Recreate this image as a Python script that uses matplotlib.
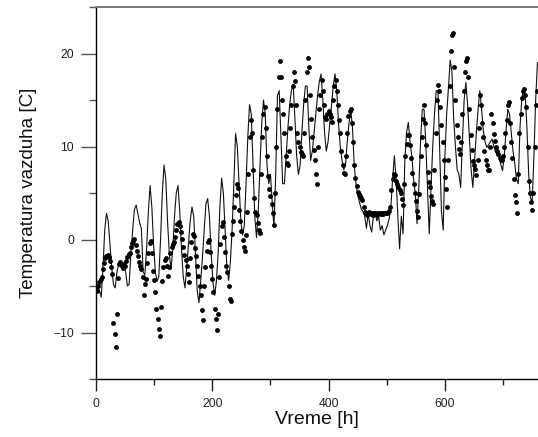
import numpy as np
import matplotlib
matplotlib.use("Agg")
import matplotlib.pyplot as plt
from matplotlib.ticker import MultipleLocator

plt.rcParams['font.family'] = ['Liberation Sans', 'DejaVu Sans']

# model (line), 3-hour steps
line_hours = np.arange(0, 762, 3)
line_temp = [
    -4.8, -5.1, -5.5, -6.2, -3.0, 1.0, 2.8, 2.0,
    -0.5, -3.0, -4.8, -5.2, -3.5, -2.6, -2.4, -2.5,
    -2.8, -3.5, -5.0, -4.8, -1.5, 1.0, 3.2, 3.7,
    2.8, 1.8, 1.2, -3.5, -3.8, -1.0, 3.0, 5.8,
    3.5, -0.5, -3.5, -4.5, -4.0, 0.0, 5.0, 8.0,
    6.5, 2.0, -1.5, -3.2, -1.0, 2.5, 5.0, 5.8,
    3.0, -1.0, -4.0, -5.2, -3.0, -0.5, 2.0, 3.5,
    2.5, -1.5, -5.5, -6.8, -4.5, -2.0, 1.0, 3.8,
    4.4, 2.5, -1.5, -4.5, -6.0, -4.5, -1.5, 3.5,
    6.6, 5.0, 1.0, -3.0, -4.4, -2.5, 1.0, 6.0,
    11.4, 10.0, 6.0, 2.0, 0.5, 1.5, 6.0, 11.0,
    14.5, 13.5, 8.0, 2.5, 0.2, 3.0, 8.0, 12.5,
    15.0, 13.5, 8.0, 6.0, 7.0, 4.0, 1.3, 7.0,
    15.5, 16.0, 11.0, 6.0, 6.0, 9.0, 12.0, 14.5,
    16.0, 16.7, 13.0, 9.0, 7.0, 8.0, 11.5, 14.5,
    16.5, 16.5, 12.0, 8.5, 9.5, 11.5, 13.5, 15.5,
    17.0, 17.8, 15.0, 11.5, 9.5, 10.5, 12.5, 14.5,
    16.5, 17.8, 16.0, 12.5, 10.0, 8.5, 7.5, 8.0,
    10.5, 12.5, 14.0, 12.0, 8.0, 6.0, 4.8, 4.0,
    3.3, 3.0, 2.5, 1.2, 2.8, 1.5, 0.8, 2.5,
    2.8, 2.0, 2.5, 1.0, 1.5, 0.5, 1.0, 1.5,
    2.2, 3.5, 6.5, 9.0, 6.5, 2.5, -1.0, 2.5,
    0.6, 8.5, 11.5, 12.6, 10.5, 9.0, 6.5, 5.0,
    1.7, 5.5, 10.5, 14.0, 14.0, 10.5, 5.5, 0.6,
    5.5, 10.0, 13.5, 16.0, 16.0, 9.5, 3.0, 1.0,
    9.0, 13.5, 16.3, 19.3, 18.0, 13.0, 10.0, 7.5,
    7.0, 5.6, 10.5, 15.0, 16.9, 14.5, 11.0, 7.5,
    5.6, 8.5, 11.5, 14.0, 16.0, 14.0, 11.7, 10.5,
    9.9, 10.2, 10.5, 10.8, 10.0, 9.4, 9.2, 9.0,
    8.1, 7.4, 9.0, 11.7, 14.0, 13.5, 11.5, 9.5,
    8.2, 6.5, 6.0, 12.0, 15.0, 16.3, 15.5, 12.0,
    7.0, 4.5, 4.0, 9.0, 15.0, 19.0,
]

# measured (dots), 2-hour steps
dot_hours = np.arange(0, 760, 2)
dot_temp = [
    -5.2, -5.5, -5.0, -4.6, -4.3, -4.0, -3.2, -2.5, -2.0, -1.8, -1.7, -1.9,
    -2.3, -3.0, -3.7, -9.0, -10.2, -11.6, -8.0, -4.1, -2.6, -2.4, -2.8, -3.1,
    -2.6, -2.9, -2.3, -1.9, -1.6, -1.4, -0.8, -0.4, -0.2, 0.1, -0.6, -1.2,
    -1.8, -2.4, -2.8, -3.2, -4.0, -6.0, -4.8, -4.3, -2.5, -1.4, -0.4, -0.2,
    -1.4, -3.4, -4.4, -5.6, -7.5, -8.6, -9.6, -10.4, -7.3, -4.5, -3.0, -2.2,
    -2.0, -2.8, -3.9, -3.0, -1.5, -0.8, -0.5, -0.3, 0.3, 1.0, 1.7, 1.9,
    1.5, 0.8, 0.1, -0.8, -1.7, -2.2, -2.8, -3.7, -4.6, -2.0, -0.3, 0.6,
    0.4, -0.9, -1.8, -2.9, -3.9, -5.0, -6.0, -7.6, -8.7, -5.0, -3.0, -1.2,
    -0.3, 0.0, -1.3, -2.8, -4.2, -5.6, -7.5, -8.6, -9.7, -8.0, -4.0, -0.5,
    1.5, 1.9, 0.3, -1.3, -2.8, -3.5, -5.0, -6.4, -6.6, 0.6, 2.0, 3.5,
    4.8, 6.0, 5.5, 3.2, 2.0, 0.9, 0.0, -0.8, -1.2, 0.5, 3.0, 7.0,
    11.0, 12.9, 11.5, 7.5, 4.5, 3.0, 2.6, 1.8, 1.0, 0.7, 7.0, 11.0,
    13.5, 14.2, 12.0, 9.0, 6.8, 5.4, 4.7, 3.8, 2.9, 1.6, 5.0, 10.0,
    14.0, 17.5, 19.2, 17.5, 15.0, 13.5, 11.5, 9.0, 8.2, 8.0, 9.5, 12.0,
    14.5, 16.5, 18.0, 17.0, 14.5, 11.5, 10.5, 9.9, 9.4, 9.2, 9.0, 11.5,
    15.0, 18.0, 19.5, 18.5, 15.5, 13.0, 11.0, 9.6, 8.5, 7.0, 6.0, 10.0,
    14.0, 15.5, 17.2, 16.0, 14.5, 13.2, 13.0, 13.5, 13.8, 13.5, 13.2, 12.6,
    15.0, 16.5, 17.2, 16.0, 14.5, 12.8, 11.5, 9.5, 8.0, 7.2, 7.0, 9.0,
    11.5, 13.3, 13.8, 14.0, 12.5, 10.5, 8.0, 6.6, 5.7, 5.1, 4.9, 4.7,
    4.5, 4.2, 3.5, 3.0, 2.8, 2.6, 2.8, 3.0, 2.7, 2.9, 2.6, 2.9,
    2.7, 2.9, 2.6, 2.8, 2.9, 2.7, 2.9, 2.7, 2.8, 2.9, 2.8, 3.0,
    3.1, 3.5, 5.3, 6.5, 7.0, 6.9, 6.3, 6.0, 5.6, 5.3, 5.0, 4.4,
    3.7, 6.0, 9.0, 10.3, 11.2, 11.2, 10.2, 8.8, 7.2, 6.0, 5.0, 4.1,
    3.1, 2.4, 4.9, 9.0, 11.0, 13.0, 14.5, 12.5, 10.2, 7.3, 6.2, 5.6,
    4.7, 4.1, 3.8, 7.5, 11.5, 15.0, 16.6, 16.0, 14.3, 12.3, 10.5, 8.5,
    6.7, 5.4, 3.5, 8.5, 16.5, 20.3, 22.0, 22.2, 18.5, 15.0, 12.3, 11.0,
    9.7, 9.2, 10.5, 13.5, 16.0, 18.0, 19.2, 19.5, 17.5, 14.0, 11.2, 9.6,
    8.4, 8.0, 7.6, 6.9, 8.5, 12.0, 15.5, 14.5, 12.5, 11.0, 9.5, 8.5,
    8.0, 7.5, 7.5, 10.0, 13.5, 12.5, 11.3, 10.6, 10.0, 9.5, 9.2, 8.8,
    8.6, 8.5, 9.0, 10.0, 11.5, 12.8, 14.5, 14.8, 12.5, 10.5, 8.8, 6.5,
    4.8, 4.0, 2.8, 7.0, 11.5, 13.5, 15.2, 16.0, 16.2, 15.5, 14.2, 10.0,
    6.3, 5.0, 4.0, 3.2, 5.0, 10.0, 14.5, 16.0,
]

x_major = [0, 200, 400, 600]
y_major = [-10, 0, 10, 20]

fig = plt.figure(figsize=(5.38, 4.37), dpi=100)
ax = fig.add_axes([96/538, 58/437, 442/538, 372/437])

ax.plot(line_hours, line_temp, color='#111111', lw=0.8, zorder=2)
ax.plot(dot_hours, dot_temp, 'o', color='black', ms=3.5, mew=0, zorder=3)

ax.set_xlim(0, 760)
ax.set_ylim(-15, 25)
ax.set_xticks(x_major)
ax.xaxis.set_minor_locator(MultipleLocator(100))
ax.set_yticks(y_major)
ax.yaxis.set_minor_locator(MultipleLocator(5))

ax.spines['right'].set_visible(False)
ax.spines['top'].set_color('#777777')
ax.spines['top'].set_linewidth(1.4)
ax.spines['left'].set_color('black')
ax.spines['bottom'].set_color('black')
ax.spines['left'].set_linewidth(1.0)
ax.spines['bottom'].set_linewidth(1.0)

ax.tick_params(axis='x', which='major', direction='out', length=8.4, width=1.0,
               color='#222222', pad=5.5, labelsize=8.7, labelcolor='#222222')
ax.tick_params(axis='x', which='minor', direction='out', length=4.1, width=1.0,
               color='#222222')
ax.tick_params(axis='y', which='major', direction='out', length=10.8, width=1.0,
               color='#555555', pad=5.0, labelsize=8.7, labelcolor='#222222')
ax.tick_params(axis='y', which='minor', direction='out', length=5.0, width=1.0,
               color='#555555')
ax.tick_params(top=False, right=False, which='both')

ax.set_xlabel('Vreme [h]', fontsize=14, color='#111111')
ax.set_ylabel('Temperatura vazduha [C]', fontsize=13.5, color='#111111')
ax.xaxis.set_label_coords(0.5, -0.086)
ax.yaxis.set_label_coords(-0.133, 0.5)

fig.savefig('out.png', dpi=100)
